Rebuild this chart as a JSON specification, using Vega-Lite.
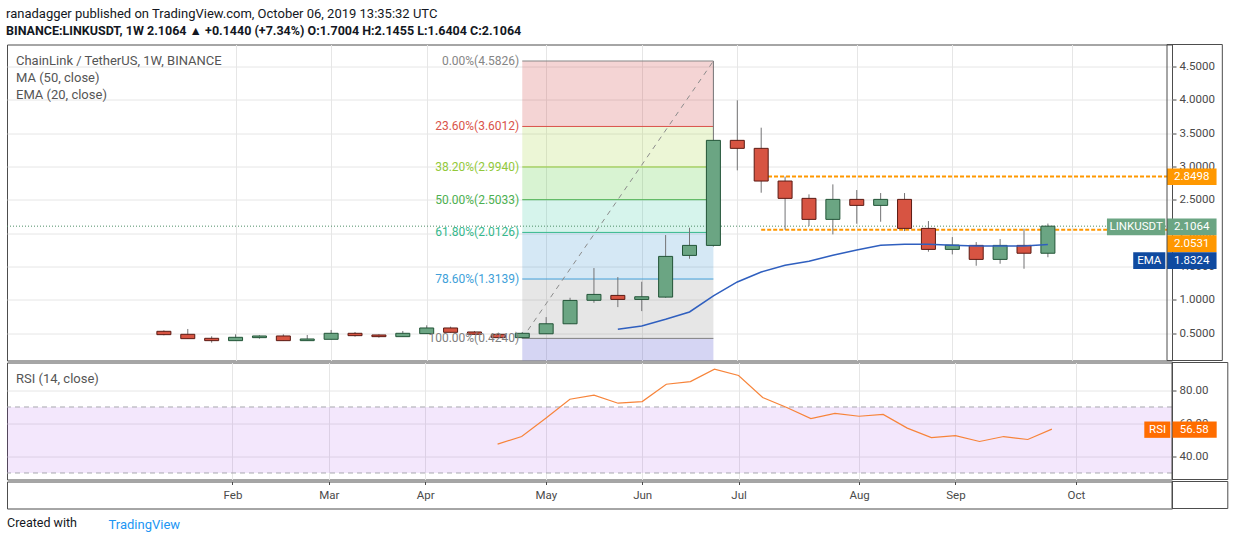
{
  "$schema": "https://vega.github.io/schema/vega-lite/v6.json",
  "background": "#ffffff",
  "padding": {"left": 6, "top": 7.5, "right": 0, "bottom": 0},
  "spacing": 0,
  "title": {
    "text": "ranadagger published on TradingView.com, October 06, 2019 13:35:32 UTC",
    "subtitle": "BINANCE:LINKUSDT, 1W  2.1064 ▲ +0.1440 (+7.34%)  O:1.7004  H:2.1455  L:1.6404  C:2.1064",
    "anchor": "start",
    "font": "Roboto",
    "fontSize": 13,
    "fontWeight": "normal",
    "color": "#131722",
    "subtitleFont": "Roboto",
    "subtitleFontSize": 12.5,
    "subtitleFontWeight": "bold",
    "subtitleColor": "#131722",
    "subtitlePadding": 4,
    "offset": 6.5
  },
  "config": {
    "font": "Roboto",
    "view": {"stroke": "#4d4d4d", "strokeWidth": 1},
    "axis": {
      "labelFont": "Roboto",
      "labelFontSize": 11.5,
      "labelColor": "#4a4a4a",
      "tickColor": "#4a4a4a",
      "gridColor": "#e6e6e6",
      "domain": false,
      "minExtent": 0,
      "labelOverlap": false
    }
  },
  "datasets": {
    "candles": [
      {"week": "2019-01-14", "open": 0.53, "high": 0.545, "low": 0.47, "close": 0.48, "ema": null, "rsi": null},
      {"week": "2019-01-21", "open": 0.485, "high": 0.565, "low": 0.42, "close": 0.42, "ema": null, "rsi": null},
      {"week": "2019-01-28", "open": 0.425, "high": 0.455, "low": 0.36, "close": 0.39, "ema": null, "rsi": null},
      {"week": "2019-02-04", "open": 0.39, "high": 0.485, "low": 0.39, "close": 0.44, "ema": null, "rsi": null},
      {"week": "2019-02-11", "open": 0.435, "high": 0.47, "low": 0.42, "close": 0.46, "ema": null, "rsi": null},
      {"week": "2019-02-18", "open": 0.46, "high": 0.485, "low": 0.39, "close": 0.39, "ema": null, "rsi": null},
      {"week": "2019-02-25", "open": 0.39, "high": 0.475, "low": 0.39, "close": 0.415, "ema": null, "rsi": null},
      {"week": "2019-03-04", "open": 0.41, "high": 0.55, "low": 0.41, "close": 0.5, "ema": null, "rsi": null},
      {"week": "2019-03-11", "open": 0.5, "high": 0.52, "low": 0.45, "close": 0.465, "ema": null, "rsi": null},
      {"week": "2019-03-18", "open": 0.475, "high": 0.485, "low": 0.435, "close": 0.45, "ema": null, "rsi": null},
      {"week": "2019-03-25", "open": 0.45, "high": 0.535, "low": 0.45, "close": 0.5, "ema": null, "rsi": null},
      {"week": "2019-04-01", "open": 0.495, "high": 0.62, "low": 0.495, "close": 0.58, "ema": null, "rsi": null},
      {"week": "2019-04-08", "open": 0.58, "high": 0.6, "low": 0.51, "close": 0.515, "ema": null, "rsi": null},
      {"week": "2019-04-15", "open": 0.52, "high": 0.535, "low": 0.475, "close": 0.485, "ema": null, "rsi": null},
      {"week": "2019-04-22", "open": 0.485, "high": 0.51, "low": 0.43, "close": 0.435, "ema": null, "rsi": 47.5},
      {"week": "2019-04-29", "open": 0.435, "high": 0.52, "low": 0.424, "close": 0.5, "ema": null, "rsi": 52.1},
      {"week": "2019-05-06", "open": 0.493, "high": 0.743, "low": 0.49, "close": 0.643, "ema": null, "rsi": 63.2},
      {"week": "2019-05-13", "open": 0.643, "high": 1.033, "low": 0.64, "close": 0.993, "ema": null, "rsi": 74.7},
      {"week": "2019-05-20", "open": 0.995, "high": 1.478, "low": 0.958, "close": 1.083, "ema": null, "rsi": 77.2},
      {"week": "2019-05-27", "open": 1.068, "high": 1.343, "low": 0.893, "close": 1.008, "ema": 0.56, "rsi": 72.3},
      {"week": "2019-06-03", "open": 1.008, "high": 1.273, "low": 0.833, "close": 1.048, "ema": 0.61, "rsi": 73.3},
      {"week": "2019-06-10", "open": 1.043, "high": 1.973, "low": 1.033, "close": 1.653, "ema": 0.71, "rsi": 83.8},
      {"week": "2019-06-17", "open": 1.668, "high": 2.083, "low": 1.618, "close": 1.818, "ema": 0.82, "rsi": 85.4},
      {"week": "2019-06-24", "open": 1.818, "high": 4.5826, "low": 1.8, "close": 3.393, "ema": 1.06, "rsi": 92.9},
      {"week": "2019-07-01", "open": 3.393, "high": 3.993, "low": 2.943, "close": 3.273, "ema": 1.27, "rsi": 89.1},
      {"week": "2019-07-08", "open": 3.273, "high": 3.583, "low": 2.608, "close": 2.783, "ema": 1.42, "rsi": 75.8},
      {"week": "2019-07-15", "open": 2.783, "high": 2.8498, "low": 2.0531, "close": 2.523, "ema": 1.52, "rsi": 69.7},
      {"week": "2019-07-22", "open": 2.523, "high": 2.583, "low": 2.108, "close": 2.208, "ema": 1.58, "rsi": 63.0},
      {"week": "2019-07-29", "open": 2.208, "high": 2.733, "low": 1.983, "close": 2.508, "ema": 1.67, "rsi": 66.1},
      {"week": "2019-08-05", "open": 2.508, "high": 2.648, "low": 2.143, "close": 2.418, "ema": 1.75, "rsi": 64.4},
      {"week": "2019-08-12", "open": 2.418, "high": 2.603, "low": 2.173, "close": 2.508, "ema": 1.82, "rsi": 65.5},
      {"week": "2019-08-19", "open": 2.508, "high": 2.603, "low": 2.033, "close": 2.073, "ema": 1.835, "rsi": 57.2},
      {"week": "2019-08-26", "open": 2.073, "high": 2.183, "low": 1.723, "close": 1.758, "ema": 1.835, "rsi": 51.5},
      {"week": "2019-09-02", "open": 1.758, "high": 1.943, "low": 1.683, "close": 1.823, "ema": 1.82, "rsi": 52.7},
      {"week": "2019-09-09", "open": 1.818, "high": 1.868, "low": 1.513, "close": 1.608, "ema": 1.81, "rsi": 49.1},
      {"week": "2019-09-16", "open": 1.608, "high": 1.913, "low": 1.543, "close": 1.818, "ema": 1.81, "rsi": 52.1},
      {"week": "2019-09-23", "open": 1.818, "high": 2.068, "low": 1.468, "close": 1.7004, "ema": 1.81, "rsi": 50.3},
      {"week": "2019-09-30", "open": 1.7004, "high": 2.1455, "low": 1.6404, "close": 2.1064, "ema": 1.8324, "rsi": 56.58}
    ],
    "fib": [
      {"pct": "0", "label": "0.00%(4.5826)", "price": 4.5826, "next": 3.6012, "start": "2019-04-29", "end": "2019-06-24"},
      {"pct": "23.6", "label": "23.60%(3.6012)", "price": 3.6012, "next": 2.994, "start": "2019-04-29", "end": "2019-06-24"},
      {"pct": "38.2", "label": "38.20%(2.9940)", "price": 2.994, "next": 2.5033, "start": "2019-04-29", "end": "2019-06-24"},
      {"pct": "50", "label": "50.00%(2.5033)", "price": 2.5033, "next": 2.0126, "start": "2019-04-29", "end": "2019-06-24"},
      {"pct": "61.8", "label": "61.80%(2.0126)", "price": 2.0126, "next": 1.3139, "start": "2019-04-29", "end": "2019-06-24"},
      {"pct": "78.6", "label": "78.60%(1.3139)", "price": 1.3139, "next": 0.424, "start": "2019-04-29", "end": "2019-06-24"},
      {"pct": "100", "label": "100.00%(0.4240)", "price": 0.424, "next": -2.146, "start": "2019-04-29", "end": "2019-06-24"}
    ],
    "trend": [
      {"t1": "2019-04-29", "p1": 0.424, "t2": "2019-06-24", "p2": 4.5826}
    ],
    "levels": [
      {"from": "2019-07-08", "price": 2.0531},
      {"from": "2019-07-10", "price": 2.8498}
    ],
    "rsiBands": [
      {"level": 70},
      {"level": 30}
    ]
  },
  "vconcat": [
    {
      "width": 1165,
      "height": 316,
      "title": {
        "text": "ChainLink / TetherUS, 1W, BINANCE",
        "subtitle": ["MA (50, close)", "EMA (20, close)"],
        "anchor": "start",
        "frame": "group",
        "orient": "top",
        "offset": -58,
        "dx": 9,
        "font": "Roboto",
        "fontSize": 13,
        "fontWeight": "normal",
        "color": "#555555",
        "subtitleFont": "Roboto",
        "subtitleFontSize": 13,
        "subtitleColor": "#555555",
        "subtitlePadding": 4,
        "subtitleLineHeight": 17
      },
      "layer": [
        {
          "data": {"name": "fib"},
          "mark": {"type": "rect", "clip": true, "fillOpacity": 0.2},
          "encoding": {
            "x": {
              "field": "start", "type": "temporal",
              "scale": {"type": "utc", "domain": [1543579200000, 1572816600000], "nice": false},
              "axis": {
                "values": [1549238400000, 1551657600000, 1554076800000, 1557100800000, 1559520000000, 1561939200000, 1564963200000, 1567382400000, 1570406400000],
                "tickCount": 40, "grid": true, "labels": false, "ticks": false, "domain": false, "title": null, "maxExtent": 0
              }
            },
            "x2": {"field": "end"},
            "y": {
              "field": "price", "type": "quantitative",
              "scale": {"domain": [0.0923, 4.83], "nice": false, "zero": false},
              "axis": {
                "orient": "right", "values": [0.5, 1, 1.5, 2, 2.5, 3, 3.5, 4, 4.5], "tickCount": 20,
                "format": ".4f", "grid": true, "tickSize": 4, "labelPadding": 3, "title": null
              }
            },
            "y2": {"field": "next"},
            "fill": {
              "field": "pct", "type": "nominal", "legend": null,
              "scale": {
                "domain": ["0", "23.6", "38.2", "50", "61.8", "78.6", "100"],
                "range": ["#c82828", "#a0d232", "#3cc31e", "#32c8a0", "#2d8ccd", "#828282", "#2d2dc3"]
              }
            }
          }
        },
        {
          "data": {"name": "fib"},
          "mark": {"type": "rule", "strokeWidth": 1},
          "encoding": {
            "x": {"field": "start", "type": "temporal"},
            "x2": {"field": "end"},
            "y": {"field": "price", "type": "quantitative"},
            "color": {
              "field": "pct", "type": "nominal", "legend": null,
              "scale": {
                "domain": ["0", "23.6", "38.2", "50", "61.8", "78.6", "100"],
                "range": ["#858585", "#d9534a", "#92c93a", "#4cb050", "#35b88d", "#409fd9", "#808080"]
              }
            }
          }
        },
        {
          "data": {"name": "trend"},
          "mark": {"type": "rule", "color": "#8c8c8c", "strokeWidth": 1, "strokeDash": [5, 5]},
          "encoding": {
            "x": {"field": "t1", "type": "temporal"},
            "x2": {"field": "t2"},
            "y": {"field": "p1", "type": "quantitative"},
            "y2": {"field": "p2"}
          }
        },
        {
          "data": {"values": [{}]},
          "mark": {"type": "rule", "color": "#4e8d66", "strokeWidth": 1, "strokeDash": [1, 2]},
          "encoding": {
            "y": {"datum": 2.1064, "type": "quantitative"}
          }
        },
        {
          "data": {"name": "levels"},
          "mark": {"type": "rule", "color": "#ff9800", "strokeWidth": 2, "strokeDash": [4, 2]},
          "encoding": {
            "x": {"field": "from", "type": "temporal"},
            "x2": {"datum": 1572816600000},
            "y": {"field": "price", "type": "quantitative"}
          }
        },
        {
          "data": {"name": "candles"},
          "mark": {"type": "rule", "color": "#737375", "strokeWidth": 1},
          "encoding": {
            "x": {"field": "week", "type": "temporal"},
            "y": {"field": "low", "type": "quantitative"},
            "y2": {"field": "high"}
          }
        },
        {
          "data": {"name": "candles"},
          "mark": {"type": "bar", "width": 14, "strokeWidth": 1},
          "encoding": {
            "x": {"field": "week", "type": "temporal"},
            "y": {"field": "open", "type": "quantitative"},
            "y2": {"field": "close"},
            "fill": {"condition": {"test": "datum.close >= datum.open", "value": "#6ba583"}, "value": "#d75442"},
            "stroke": {"condition": {"test": "datum.close >= datum.open", "value": "#225437"}, "value": "#5b1a13"}
          }
        },
        {
          "data": {"name": "candles"},
          "transform": [{"filter": "isValid(datum.ema)"}],
          "mark": {"type": "line", "color": "#2f5fbf", "strokeWidth": 1.5},
          "encoding": {
            "x": {"field": "week", "type": "temporal"},
            "y": {"field": "ema", "type": "quantitative"}
          }
        },
        {
          "data": {"name": "fib"},
          "mark": {"type": "text", "align": "right", "baseline": "middle", "dx": -3, "fontSize": 12, "font": "Roboto"},
          "encoding": {
            "x": {"field": "start", "type": "temporal"},
            "y": {"field": "price", "type": "quantitative"},
            "text": {"field": "label"},
            "color": {"field": "pct", "type": "nominal", "legend": null}
          }
        },
        {
          "data": {"values": [{}]},
          "mark": {"type": "rect", "color": "#ff9800", "clip": false},
          "encoding": {
            "x": {"datum": 1572816600000, "type": "temporal"},
            "x2": {"datum": 1574071000000},
            "y": {"datum": 2.971, "type": "quantitative"},
            "y2": {"datum": 2.725}
          }
        },
        {
          "data": {"values": [{}]},
          "mark": {"type": "rect", "color": "#6ba583", "clip": false},
          "encoding": {
            "x": {"datum": 1571296320000, "type": "temporal"},
            "x2": {"datum": 1572773760000},
            "y": {"datum": 2.221, "type": "quantitative"},
            "y2": {"datum": 1.971}
          }
        },
        {
          "data": {"values": [{}]},
          "mark": {"type": "rect", "color": "#6ba583", "clip": false},
          "encoding": {
            "x": {"datum": 1572816600000, "type": "temporal"},
            "x2": {"datum": 1574071000000},
            "y": {"datum": 2.221, "type": "quantitative"},
            "y2": {"datum": 1.971}
          }
        },
        {
          "data": {"values": [{}]},
          "mark": {"type": "rect", "color": "#ff9800", "clip": false},
          "encoding": {
            "x": {"datum": 1572816600000, "type": "temporal"},
            "x2": {"datum": 1574071000000},
            "y": {"datum": 1.971, "type": "quantitative"},
            "y2": {"datum": 1.716}
          }
        },
        {
          "data": {"values": [{}]},
          "mark": {"type": "rect", "color": "#0f4aa0", "clip": false},
          "encoding": {
            "x": {"datum": 1571961600000, "type": "temporal"},
            "x2": {"datum": 1572773760000},
            "y": {"datum": 1.716, "type": "quantitative"},
            "y2": {"datum": 1.466}
          }
        },
        {
          "data": {"values": [{}]},
          "mark": {"type": "rect", "color": "#0f4aa0", "clip": false},
          "encoding": {
            "x": {"datum": 1572816600000, "type": "temporal"},
            "x2": {"datum": 1574071000000},
            "y": {"datum": 1.716, "type": "quantitative"},
            "y2": {"datum": 1.466}
          }
        },
        {
          "data": {"values": [{}]},
          "mark": {"type": "text", "color": "#ffffff", "fontSize": 11.5, "baseline": "middle", "clip": false},
          "encoding": {
            "x": {"datum": 1573443900000, "type": "temporal"},
            "y": {"datum": 2.848, "type": "quantitative"},
            "text": {"value": "2.8498"}
          }
        },
        {
          "data": {"values": [{}]},
          "mark": {"type": "text", "color": "#ffffff", "fontSize": 11.5, "baseline": "middle", "clip": false},
          "encoding": {
            "x": {"datum": 1572035040000, "type": "temporal"},
            "y": {"datum": 2.096, "type": "quantitative"},
            "text": {"value": "LINKUSDT"}
          }
        },
        {
          "data": {"values": [{}]},
          "mark": {"type": "text", "color": "#ffffff", "fontSize": 11.5, "baseline": "middle", "clip": false},
          "encoding": {
            "x": {"datum": 1573443900000, "type": "temporal"},
            "y": {"datum": 2.096, "type": "quantitative"},
            "text": {"value": "2.1064"}
          }
        },
        {
          "data": {"values": [{}]},
          "mark": {"type": "text", "color": "#ffffff", "fontSize": 11.5, "baseline": "middle", "clip": false},
          "encoding": {
            "x": {"datum": 1573443900000, "type": "temporal"},
            "y": {"datum": 1.843, "type": "quantitative"},
            "text": {"value": "2.0531"}
          }
        },
        {
          "data": {"values": [{}]},
          "mark": {"type": "text", "color": "#ffffff", "fontSize": 11.5, "baseline": "middle", "clip": false},
          "encoding": {
            "x": {"datum": 1572367680000, "type": "temporal"},
            "y": {"datum": 1.591, "type": "quantitative"},
            "text": {"value": "EMA"}
          }
        },
        {
          "data": {"values": [{}]},
          "mark": {"type": "text", "color": "#ffffff", "fontSize": 11.5, "baseline": "middle", "clip": false},
          "encoding": {
            "x": {"datum": 1573443900000, "type": "temporal"},
            "y": {"datum": 1.591, "type": "quantitative"},
            "text": {"value": "1.8324"}
          }
        },
        {
          "data": {"values": [{}]},
          "mark": {"type": "rect", "filled": false, "color": "#4d4d4d", "strokeWidth": 1, "clip": false},
          "encoding": {
            "x": {"datum": 1572816600000, "type": "temporal"},
            "x2": {"datum": 1574217000000},
            "y": {"datum": 4.83, "type": "quantitative"},
            "y2": {"datum": 0.0923}
          }
        }
      ]
    },
    {
      "width": 1165,
      "height": 117,
      "title": {
        "text": "RSI (14, close)",
        "anchor": "start",
        "frame": "group",
        "orient": "top",
        "offset": -24,
        "dx": 9,
        "font": "Roboto",
        "fontSize": 13,
        "fontWeight": "normal",
        "color": "#555555"
      },
      "layer": [
        {
          "data": {"values": [{}]},
          "mark": {"type": "rect", "color": "#8c10e0", "opacity": 0.1},
          "encoding": {
            "y": {"datum": 70, "type": "quantitative"},
            "y2": {"datum": 30}
          }
        },
        {
          "data": {"name": "rsiBands"},
          "mark": {"type": "rule", "color": "#a8a8b0", "strokeWidth": 1, "strokeDash": [5, 4]},
          "encoding": {
            "y": {"field": "level", "type": "quantitative"}
          }
        },
        {
          "data": {"name": "candles"},
          "transform": [{"filter": "isValid(datum.rsi)"}],
          "mark": {"type": "line", "color": "#f7843a", "strokeWidth": 1.2},
          "encoding": {
            "x": {
              "field": "week", "type": "temporal",
              "scale": {"type": "utc", "domain": [1543579200000, 1572816600000], "nice": false},
              "axis": {
                "values": [1549238400000, 1551657600000, 1554076800000, 1557100800000, 1559520000000, 1561939200000, 1564963200000, 1567382400000, 1570406400000],
                "tickCount": 40, "grid": true, "labels": false, "ticks": false, "domain": false, "title": null, "maxExtent": 0
              }
            },
            "y": {
              "field": "rsi", "type": "quantitative",
              "scale": {"domain": [26.06, 96.97], "nice": false, "zero": false},
              "axis": {
                "orient": "right", "values": [40, 60, 80], "tickCount": 20, "format": ".2f",
                "grid": true, "tickSize": 4, "labelPadding": 3, "title": null
              }
            }
          }
        },
        {
          "data": {"values": [{}]},
          "mark": {"type": "rect", "color": "#ff6d00", "clip": false},
          "encoding": {
            "x": {"datum": 1572121440000, "type": "temporal"},
            "x2": {"datum": 1572773760000},
            "y": {"datum": 61.2, "type": "quantitative"},
            "y2": {"datum": 51.3}
          }
        },
        {
          "data": {"values": [{}]},
          "mark": {"type": "rect", "color": "#ff6d00", "clip": false},
          "encoding": {
            "x": {"datum": 1572816600000, "type": "temporal"},
            "x2": {"datum": 1573938000000},
            "y": {"datum": 61.2, "type": "quantitative"},
            "y2": {"datum": 51.3}
          }
        },
        {
          "data": {"values": [{}]},
          "mark": {"type": "text", "color": "#ffffff", "fontSize": 11.5, "baseline": "middle", "clip": false},
          "encoding": {
            "x": {"datum": 1572454080000, "type": "temporal"},
            "y": {"datum": 56.25, "type": "quantitative"},
            "text": {"value": "RSI"}
          }
        },
        {
          "data": {"values": [{}]},
          "mark": {"type": "text", "color": "#ffffff", "fontSize": 11.5, "baseline": "middle", "clip": false},
          "encoding": {
            "x": {"datum": 1573376500000, "type": "temporal"},
            "y": {"datum": 56.25, "type": "quantitative"},
            "text": {"value": "56.58"}
          }
        },
        {
          "data": {"values": [{}]},
          "mark": {"type": "rect", "filled": false, "color": "#4d4d4d", "strokeWidth": 1, "clip": false},
          "encoding": {
            "x": {"datum": 1572816600000, "type": "temporal"},
            "x2": {"datum": 1574217000000},
            "y": {"datum": 96.97, "type": "quantitative"},
            "y2": {"datum": 26.06}
          }
        }
      ]
    },
    {
      "width": 1165,
      "height": 27,
      "title": {
        "text": "Created with",
        "anchor": "start",
        "orient": "bottom",
        "offset": -14.5,
        "font": "Roboto",
        "fontSize": 12.5,
        "fontWeight": "normal",
        "color": "#131722"
      },
      "layer": [
        {
          "data": {"name": "candles"},
          "mark": {"type": "rule", "strokeOpacity": 0},
          "encoding": {
            "x": {
              "field": "week", "type": "temporal",
              "scale": {"type": "utc", "domain": [1543579200000, 1572816600000], "nice": false},
              "axis": {
                "values": [1549238400000, 1551657600000, 1554076800000, 1557100800000, 1559520000000, 1561939200000, 1564963200000, 1567382400000, 1570406400000],
                "tickCount": 40, "format": "%b", "grid": false, "ticks": true, "tickSize": 3, "labelPadding": 5, "domain": false,
                "offset": -27, "labelFontSize": 11.5,
                "title": "TradingView", "titleX": 101, "titleY": 42.5, "titleAnchor": "start", "titleAlign": "left",
                "titleBaseline": "middle", "titleFont": "Roboto", "titleFontSize": 13, "titleFontWeight": "normal", "titleColor": "#2196f3"
              }
            }
          }
        },
        {
          "data": {"values": [{}]},
          "mark": {"type": "rect", "filled": false, "color": "#4d4d4d", "strokeWidth": 1, "clip": false},
          "encoding": {
            "x": {"datum": 1572816600000, "type": "temporal"},
            "x2": {"datum": 1574217000000}
          }
        }
      ]
    }
  ]
}
